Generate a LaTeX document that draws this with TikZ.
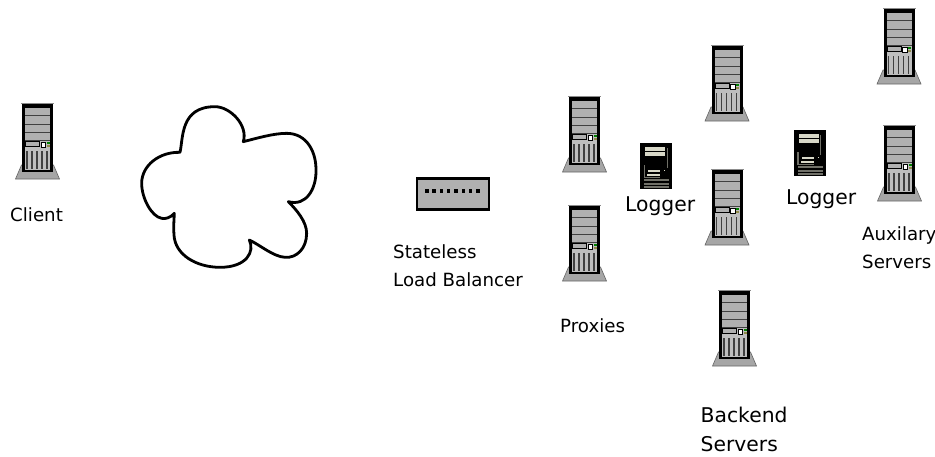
\documentclass[tikz,border=0pt]{standalone}
\usepackage{fontspec}
\setmainfont{DejaVu Sans}
\definecolor{srvgray}{HTML}{B0B0B0}
\definecolor{srvlow}{HTML}{BEBEBE}
\definecolor{srvdark}{HTML}{404040}
\definecolor{logbar}{HTML}{D8D8C8}
\definecolor{logdim}{HTML}{707068}
\tikzset{
  lbl/.style={inner sep=0pt,anchor=base west,align=left,font=\fontsize{18.2}{26}\selectfont},
  biglbl/.style={inner sep=0pt,anchor=base west,align=left,font=\fontsize{20.3}{30}\selectfont},
  pics/srv/.style={code={
    \fill[black!35,draw=black!60,line width=.6pt] (-16,62)--(16,62)--(22,76)--(-22,76)--cycle;
    \fill[black!45] (-16.5,0) rectangle (16.5,1);
    \fill[black] (-15.5,1) rectangle (15.5,69);
    \fill[srvlow] (-12.5,4) rectangle (12.5,66.5);
    \fill[srvgray] (-12.5,4) rectangle (12.5,38);
    \draw[black,line width=.8pt] (-12.5,4.5) -- (12.5,4.5);
    \foreach \y in {12.5,21,29,37.3}{\fill[srvdark] (-12.5,\y-.5) rectangle (12.5,\y+.5);}
    \draw[black,line width=.7pt,fill=srvgray] (-12,38.3) rectangle (2,43.5);
    \fill[white,draw=black,line width=.7pt] (3.5,39) rectangle (8,44);
    \fill[black!50!green] (9,39) rectangle (12,41);
    \fill[black!50!yellow] (9,41.7) rectangle (12,44);
    \foreach \x in {-10.5,-5.5,-.5,4.5,9.5}{\fill[srvdark] (\x-.7,48) rectangle (\x+.7,66);}
  }},
  pics/logsrv/.style={code={
    \fill[black] (0,0) rectangle (32,46);
    \fill[logbar] (5,4.3) rectangle (25,7.7);
    \fill[logbar] (5,9.3) rectangle (25,13.3);
    \fill[logdim] (26.5,5) rectangle (27.5,25);
    \fill[logdim] (3.5,22) rectangle (5,35);
    \fill[logdim] (5,33.5) rectangle (20,35);
    \fill[logbar] (8,26.5) rectangle (20,28.5);
    \fill[logbar] (7,31) rectangle (20,33);
    \fill[logbar] (24,26.5) rectangle (25,28);
    \fill[logdim] (4,36) rectangle (29,38);
    \fill[logdim] (4,39.5) rectangle (29,41.5);
    \fill[logdim] (4,43) rectangle (29,45);
  }}
}
\begin{document}
\begin{tikzpicture}[x=1pt,y=-1pt]
\useasboundingbox (0,0) rectangle (935,456);
\fill[white] (0,0) rectangle (935,456);
% servers
\pic at (37.5,103) {srv};
\pic at (584.5,96) {srv};
\pic at (584.5,205) {srv};
\pic at (727,45) {srv};
\pic at (727,169) {srv};
\pic at (734.5,290) {srv};
\pic at (899,8) {srv};
\pic at (899.5,125) {srv};
\pic at (640,143) {logsrv};
\pic at (793.5,130) {logsrv};
% cloud
\begin{scope}[shift={(130,95)},x=.3333pt,y=-.3333pt]
\draw[line width=2.8pt,line join=round,fill=white]
 (150,172) .. controls (160,130) and (150,35) .. (255,35)
 .. controls (300,35) and (355,90) .. (340,140)
 .. controls (380,130) and (430,115) .. (470,115)
 .. controls (530,115) and (560,170) .. (558,230)
 .. controls (558,280) and (530,335) .. (475,320)
 .. controls (500,345) and (530,380) .. (530,415)
 .. controls (530,460) and (500,490) .. (465,487)
 .. controls (430,485) and (390,450) .. (358,435)
 .. controls (375,470) and (350,517) .. (270,517)
 .. controls (200,517) and (135,480) .. (132,420)
 .. controls (130,400) and (132,375) .. (133,355)
 .. controls (120,370) and (105,372) .. (95,370)
 .. controls (65,365) and (35,310) .. (35,265)
 .. controls (35,210) and (90,170) .. (150,172) -- cycle;
\end{scope}
% load balancer
\draw[black,line width=2.4pt,fill=srvgray] (417,178.5) rectangle (489,209.5);
\foreach \x in {0,...,7}{\fill[black] (425+\x*7.3,189) rectangle (428.5+\x*7.3,193);}
% labels
\node[lbl] (client) at (10,221.5) {Client};
\node[lbl] (lb) at (393,258.5) {Stateless};
\node[lbl] (lb2) at (393,286.5) {Load Balancer};
\node[lbl] (prox) at (560,332) {Proxies};
\node[biglbl] (log1) at (625,211) {Logger};
\node[biglbl] (log2) at (786,204) {Logger};
\node[lbl] (aux1) at (862,240) {Auxilary};
\node[lbl] (aux2) at (862,268) {Servers};
\node[biglbl] (be1) at (700.5,422.5) {Backend};
\node[biglbl] (be2) at (700.5,451.5) {Servers};
\end{tikzpicture}
\end{document}
